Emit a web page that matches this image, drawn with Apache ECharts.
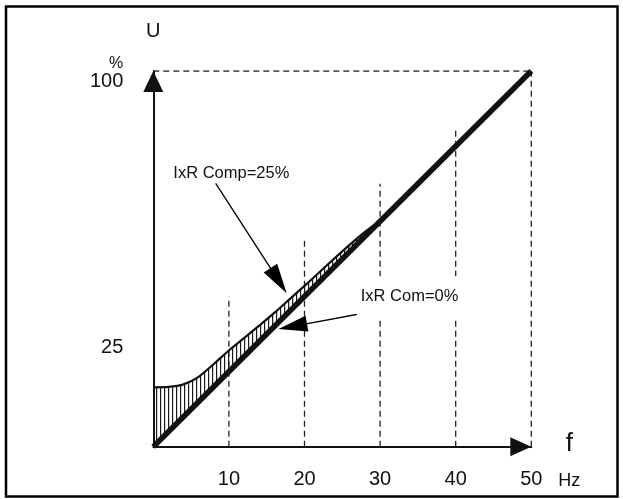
<!DOCTYPE html>
<html>
<head>
<meta charset="utf-8">
<script src="https://cdn.jsdelivr.net/npm/echarts@6/dist/echarts.min.js"></script>
<style>
  html, body { margin: 0; padding: 0; background: #fff; }
  #chart { width: 623px; height: 499px; }
</style>
</head>
<body>
<div id="chart"></div>
<script>
// ---- data ----
const freqTicks   = [10, 20, 30, 40, 50];          // x tick labels (Hz)
const guideTops   = [40, 55, 70, 85, 100];         // top of dashed guide at each tick (%)
const yTickLabels = [25, 100];                     // y tick labels (%)
const linFreq     = [0, 50];                       // IxR Com=0% line
const linVolt     = [0, 100];
const compFreq    = [0, 2, 4, 6, 8, 10, 12, 14, 16, 18, 20, 22, 24, 26, 28, 30];   // IxR Comp=25% curve
const compVolt    = [15.8, 15.9, 16.6, 18.6, 22.0, 25.6, 28.9, 32.2, 35.6, 39.2, 42.8, 46.5, 50.2, 53.8, 57.2, 60.2];

const FONT = '"Liberation Sans", Arial, sans-serif';
const INK = '#111';

// vertical hatch pattern
const pat = document.createElement('canvas');
pat.width = 4; pat.height = 4;
const pctx = pat.getContext('2d');
pctx.fillStyle = '#1a1a1a';
pctx.fillRect(0, 0, 1.2, 4);

const chart = echarts.init(document.getElementById('chart'), null, { renderer: 'canvas' });

const option = {
  animation: false,
  backgroundColor: '#fff',
  grid: { left: 153.3, right: 91.7, top: 71, bottom: 52.3, containLabel: false },
  xAxis: {
    type: 'value', min: 0, max: 50, interval: 10,
    axisLine: { show: true, onZero: false, lineStyle: { color: INK, width: 2 },
      symbol: ['none', 'triangle'], symbolSize: [19, 21], symbolOffset: [0, -10.5] },
    axisTick: { show: false },
    splitLine: { show: false },
    axisLabel: {
      margin: 23, fontSize: 20, color: INK, fontFamily: FONT,
      formatter: v => freqTicks.includes(v) ? String(v) : ''
    },
    name: '{f|f}\n{hz|Hz}',
    nameLocation: 'end', nameGap: 27,
    nameTextStyle: {
      padding: [32, 0, 0, 0], fontFamily: FONT, color: INK,
      rich: {
        f:  { fontSize: 26, lineHeight: 37, width: 22, align: 'center', fontFamily: FONT, color: INK },
        hz: { fontSize: 18, lineHeight: 37, width: 22, align: 'center', fontFamily: FONT, color: INK }
      }
    }
  },
  yAxis: {
    type: 'value', min: 0, max: 100, interval: 25,
    axisLine: { show: true, onZero: false, lineStyle: { color: INK, width: 2 },
      symbol: ['none', 'triangle'], symbolSize: [20, 21], symbolOffset: [0, -10.5] },
    axisTick: { show: false },
    splitLine: { show: false },
    axisLabel: {
      margin: 30, color: INK, fontFamily: FONT, align: 'right',
      formatter: v => {
        if (!yTickLabels.includes(v)) return '';
        if (v === 100) return '{p|%}\n{h|' + v + '}';
        return '{t|' + v + '}';
      },
      rich: {
        p: { fontSize: 16, lineHeight: 20, fontFamily: FONT, color: INK, align: 'right', padding: [6, 0, 0, 0] },
        h: { fontSize: 20, lineHeight: 20, fontFamily: FONT, color: INK, align: 'right' },
        t: { fontSize: 20, lineHeight: 20, fontFamily: FONT, color: INK, padding: [0, 0, 10, 0] }
      }
    },
    name: 'U', nameLocation: 'end', nameGap: 30,
    nameTextStyle: { fontSize: 20, color: INK, fontFamily: FONT, align: 'center' }
  },
  graphic: [{
    type: 'rect', z: 100, silent: true,
    shape: { x: 6, y: 6.5, width: 611.5, height: 490 },
    style: { fill: 'none', stroke: '#000', lineWidth: 2.5 }
  }],
  series: [
    { // dashed guides
      type: 'custom', z: 1, silent: true,
      data: freqTicks.map((f, i) => [f, guideTops[i]]),
      renderItem: (params, api) => {
        const p0 = api.coord([api.value(0), 0]);
        const p1 = api.coord([api.value(0), api.value(1)]);
        return { type: 'line', shape: { x1: p0[0], y1: p0[1], x2: p1[0], y2: p1[1] },
          style: { stroke: '#222', lineWidth: 1.3, lineDash: [6, 4] } };
      }
    },
    { // top dashed line at 100%
      type: 'line', z: 1, silent: true, symbol: 'none',
      data: [[linFreq[0], linVolt[1]], [linFreq[1], linVolt[1]]],
      lineStyle: { color: '#222', width: 1.3, type: [6, 4] }
    },
    { // hatched band
      type: 'custom', z: 2, silent: true,
      data: [0],
      renderItem: (params, api) => {
        const pts = compFreq.map((f, i) => api.coord([f, compVolt[i]]));
        pts.push(api.coord([linFreq[0], linVolt[0]]));
        return { type: 'polygon', shape: { points: pts },
          style: { fill: { image: pat, repeat: 'repeat' }, stroke: null } };
      }
    },
    { // IxR Comp=25% curve
      type: 'line', z: 3, silent: true, symbol: 'none', smooth: 0.2,
      data: compFreq.map((f, i) => [f, compVolt[i]]),
      lineStyle: { color: INK, width: 2.2 }
    },
    { // IxR Com=0% straight line with annotations
      type: 'line', z: 4, silent: true, symbol: 'none',
      data: linFreq.map((f, i) => [f, linVolt[i]]),
      lineStyle: { color: '#111', width: 5.5 },
      markLine: {
        silent: true, symbol: ['none', 'triangle'], animation: false,
        label: { show: false },
        lineStyle: { color: '#000', width: 1.3, type: 'solid' },
        emphasis: { disabled: true },
        data: [
          [{ coord: [8.25, 70.1] }, { coord: [16.57, 44.18], symbolSize: [16, 30] }],
          [{ coord: [28.66, 35.85] }, { coord: [18.44, 32.05], symbolSize: [16, 29] }]
        ]
      },
      markPoint: {
        silent: true, symbol: 'rect', symbolSize: 0, z: 20,
        data: [
          { name: 'IxR Comp=25%', coord: [10.32, 72.8] },
          { name: 'IxR Com=0%', coord: [33.9, 39.9],
            label: { backgroundColor: '#fff', padding: [12, 4] } }
        ],
        label: { show: true, position: 'inside', formatter: '{b}', fontSize: 16.5,
          color: INK, fontFamily: FONT }
      }
    }
  ]
};
chart.setOption(option);
</script>
</body>
</html>
